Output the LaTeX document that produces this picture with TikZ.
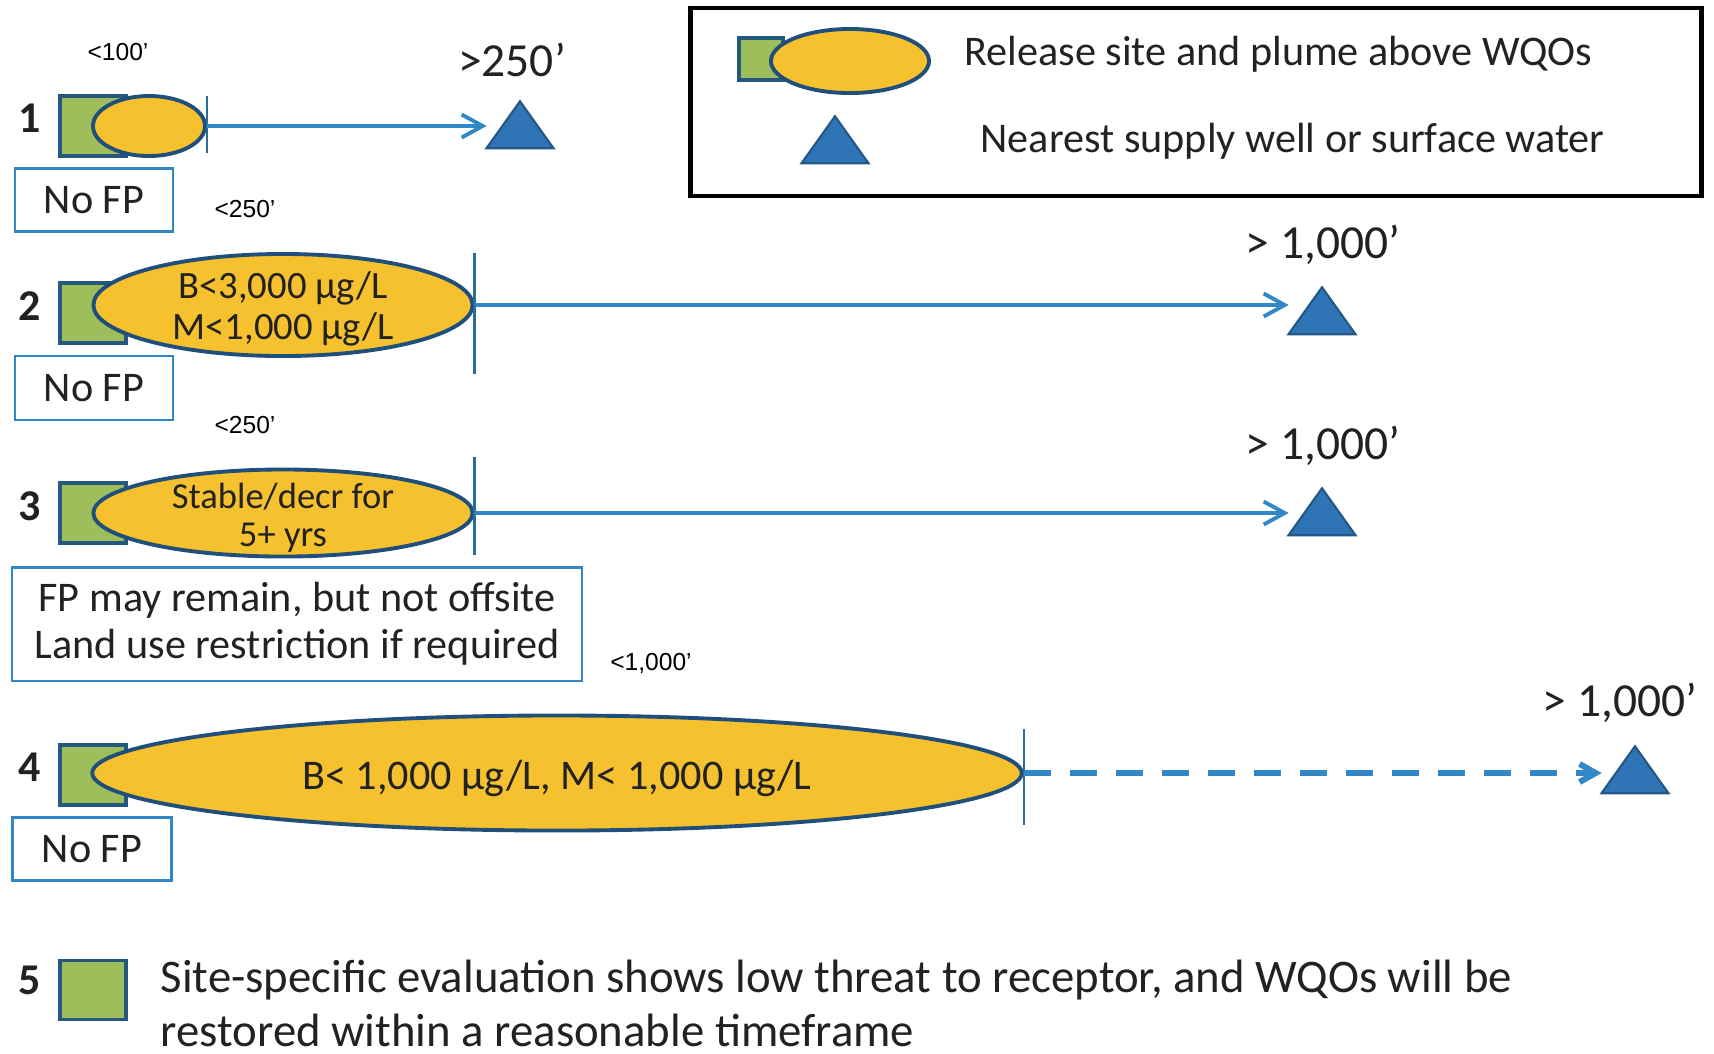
\documentclass[tikz,border=0pt]{standalone}
\usepackage{fontspec}
\setmainfont{Carlito}
\newfontfamily\arialfont{Liberation Sans}
\usepackage{tikz}
\usetikzlibrary{arrows.meta, positioning, shapes.geometric}
\definecolor{sitegreen}{HTML}{9DBE5A}
\definecolor{siteedge}{HTML}{24587F}
\definecolor{plumegold}{HTML}{F5C12E}
\definecolor{plumeedge}{HTML}{1F4F7A}
\definecolor{wellblue}{HTML}{2F74B5}
\definecolor{flowblue}{HTML}{3288C6}
\definecolor{textgray}{HTML}{222222}

\begin{document}
\begin{tikzpicture}[x=0.01cm, y=-0.01cm, text=textgray,
    site/.style={draw=siteedge, line width=1pt, fill=sitegreen,
                 minimum width=0.66cm, minimum height=0.6cm, inner sep=0pt},
    plume/.style={ellipse, draw=plumeedge, line width=1.1pt, fill=plumegold, inner sep=0pt},
    plumetext/.style={align=center, font=\fontsize{11}{11.6}\selectfont},
    well/.style={isosceles triangle, isosceles triangle stretches, shape border rotate=90,
                 draw=wellblue!75!black, line width=0.6pt, fill=wellblue,
                 minimum width=0.67cm, minimum height=0.47cm, inner sep=0pt},
    flow/.style={draw=flowblue, line width=1.1pt, shorten >=3pt,
                 -{Straight Barb[length=2.1mm, width=2.3mm]}},
    tick/.style={draw=flowblue!80!black, line width=0.6pt},
    fpbox/.style={draw=flowblue, line width=0.6pt, align=center, fill=white,
                  font=\fontsize{12}{13.4}\selectfont},
    rownum/.style={font=\fontsize{12.5}{14}\selectfont\bfseries},
    dist/.style={font=\arialfont\fontsize{7}{8}\selectfont, text=black},
    far/.style={font=\fontsize{13.5}{15}\selectfont}]
  \useasboundingbox (0,0) rectangle (1714,1053);

  % legend
  \node[draw=black, line width=1.3pt, minimum width=10.1cm, minimum height=1.88cm] (legend) at (1196,102) {};
  \node[site, minimum width=0.44cm, minimum height=0.42cm] (ls) at (761,59) {};
  \node[plume, minimum width=1.58cm, minimum height=0.64cm] (le) at (850,61) {};
  \node[anchor=west, inner sep=0pt, font=\fontsize{12}{14}\selectfont] (lt1) at (964,54) {Release site and plume above WQOs};
  \node[well] (lw) at (835,146) {};
  \node[anchor=west, inner sep=0pt, font=\fontsize{12}{14}\selectfont] (lt2) at (980,141) {Nearest supply well or surface water};

  % row 1
  \node[rownum] (n1) at (30,118) {1};
  \node[site] (s1) at (93,126) {};
  \node[plume, minimum width=1.12cm, minimum height=0.6cm] (e1) at (149,126) {};
  \node[well] (t1) at (520,131) {};
  \node[dist] (d1) at (118,52) {<100’};
  \node[far] (f1) at (512,60) {>250’};
  \node[fpbox, minimum width=1.58cm, minimum height=0.63cm] (b1) at (94,200) {No FP};
  \draw[tick] (e1.east) ++(0,-30) -- ++(0,57);
  \draw[flow] (e1.east) -- (e1.east -| t1.west);

  % row 2
  \node[rownum] (n2) at (30,306) {2};
  \node[site] (s2) at (93,313) {};
  \node[plume, minimum width=3.79cm, minimum height=1.02cm] (e2) at (283,305) {};
  \node[plumetext] (e2t) at ([yshift=-1.2pt]e2.center) {B<3,000 µg/L\\M<1,000 µg/L};
  \node[well] (t2) at (1322,317) {};
  \node[dist] (d2) at (245,209) {<250’};
  \node[far] (f2) at (1323,245) {> 1,000’};
  \node[fpbox, minimum width=1.58cm, minimum height=0.64cm] (b2) at (94,388) {No FP};
  \draw[tick] (e2.east) ++(0,-52) -- ++(0,121);
  \draw[flow] (e2.east) -- (e2.east -| t2.west);

  % row 3
  \node[rownum] (n3) at (30,506) {3};
  \node[site] (s3) at (93,513) {};
  \node[plume, minimum width=3.79cm, minimum height=0.87cm] (e3) at (283,513) {};
  \node[plumetext, font=\fontsize{10.4}{10.8}\selectfont] (e3t) at ([yshift=-1.4pt]e3.center) {Stable/decr for\\5+ yrs};
  \node[well] (t3) at (1322,518) {};
  \node[dist] (d3) at (245,425) {<250’};
  \node[far] (f3) at (1323,446) {> 1,000’};
  \node[fpbox, minimum width=5.69cm, minimum height=1.13cm] (b3) at (297,624)
    {FP may remain, but not offsite\\Land use restriction if required};
  \draw[tick] (e3.east) ++(0,-56) -- ++(0,98);
  \draw[flow] (e3.east) -- (e3.east -| t3.west);

  % row 4
  \node[rownum] (n4) at (30,767) {4};
  \node[site] (s4) at (93,775) {};
  \node[plume, minimum width=9.29cm, minimum height=1.15cm] (e4) at (557,773) {};
  \node[plumetext, font=\fontsize{12}{13}\selectfont] (e4t) at ([yshift=-1.5pt]e4.center) {B< 1,000 µg/L, M< 1,000 µg/L};
  \node[well] (t4) at (1635,776) {};
  \node[dist] (d4) at (651,663) {<1,000’};
  \node[far] (f4) at (1620,703) {> 1,000’};
  \node[fpbox, minimum width=1.59cm, minimum height=0.63cm] (b4) at (92,849) {No FP};
  \draw[tick] (e4.east) ++(0,-44) -- ++(0,96);
  \draw[flow, line width=1.7pt, dash pattern=on 2.7mm off 1.9mm,
        -{Straight Barb[length=1.6mm, width=1.8mm]}] (e4.east) -- (e4.east -| t4.west);

  % row 5
  \node[rownum] (n5) at (30,980) {5};
  \node[site, minimum height=0.59cm] (s5) at (93,990) {};
  \node[anchor=west, align=left, inner sep=0pt, font=\fontsize{13.3}{15.4}\selectfont] (note) at (160,1003)
    {Site-specific evaluation shows low threat to receptor, and WQOs will be\\restored within a reasonable timeframe};
\end{tikzpicture}
\end{document}
